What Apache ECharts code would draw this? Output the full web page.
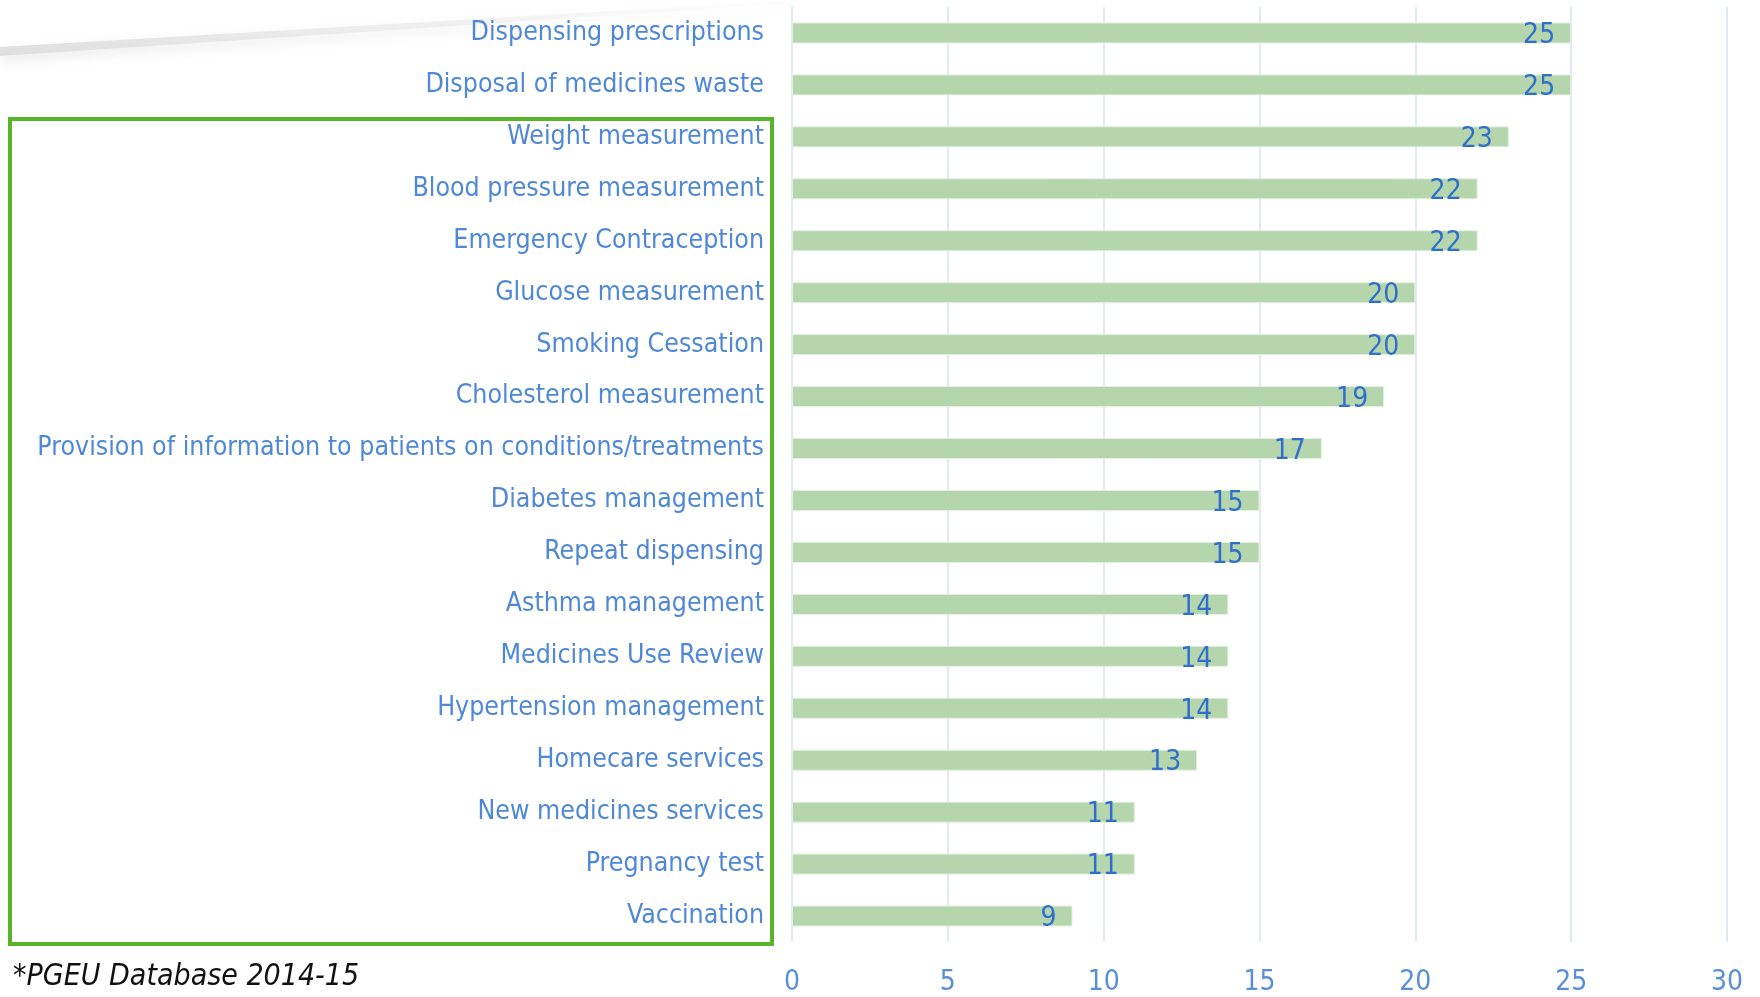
<!DOCTYPE html>
<html>
<head>
<meta charset="utf-8">
<script src="https://cdn.jsdelivr.net/npm/echarts@6/dist/echarts.min.js"></script>
<style>
html,body{margin:0;padding:0;background:#fff;}
#chart{width:1760px;height:997px;}
</style>
</head>
<body>
<div id="chart"></div>
<script>
const categories = [
  "Dispensing prescriptions",
  "Disposal of medicines waste",
  "Weight measurement",
  "Blood pressure measurement",
  "Emergency Contraception",
  "Glucose measurement",
  "Smoking Cessation",
  "Cholesterol measurement",
  "Provision of information to patients on conditions/treatments",
  "Diabetes management",
  "Repeat dispensing",
  "Asthma management",
  "Medicines Use Review",
  "Hypertension management",
  "Homecare services",
  "New medicines services",
  "Pregnancy test",
  "Vaccination"
];
const values = [25, 25, 23, 22, 22, 20, 20, 19, 17, 15, 15, 14, 14, 14, 13, 11, 11, 9];
const axisTicks = [0, 5, 10, 15, 20, 25, 30];
const footnote = "*PGEU Database 2014-15";

const FONT = '"Liberation Sans Narrow", "DejaVu Sans Condensed", sans-serif';
const chart = echarts.init(document.getElementById('chart'), null, {renderer: 'canvas'});
chart.setOption({
  backgroundColor: '#ffffff',
  animation: false,
  grid: {left: 792, right: 33, top: 7, bottom: 43, containLabel: false},
  xAxis: {
    type: 'value',
    min: axisTicks[0],
    max: axisTicks[axisTicks.length - 1],
    interval: 5,
    axisLine: {show: false},
    axisTick: {show: false},
    splitLine: {show: true, lineStyle: {color: '#d5e3f1', width: 1.5}},
    axisLabel: {color: '#5a8ed6', fontFamily: FONT, fontSize: 28, margin: 27}
  },
  yAxis: {
    type: 'category',
    data: categories,
    inverse: true,
    axisLine: {show: false},
    axisTick: {show: false},
    splitLine: {show: false},
    axisLabel: {color: '#4e88d6', fontFamily: FONT, fontSize: 26.5, margin: 28}
  },
  series: [{
    type: 'bar',
    data: values,
    barWidth: 21,
    itemStyle: {color: '#b5d5ad', borderColor: '#e4f0e1', borderWidth: 1},
    label: {
      show: true,
      position: 'insideRight',
      distance: 16,
      offset: [0, 3],
      color: '#2f6fcb',
      fontFamily: FONT,
      fontSize: 28
    }
  }],
  graphic: [
    {
      type: 'polygon',
      shape: {points: [[0, 47], [800, 0], [800, 3], [0, 56]]},
      style: {
        fill: new echarts.graphic.LinearGradient(0, 0, 1, 0, [
          {offset: 0, color: 'rgba(215,215,215,0.75)'},
          {offset: 0.55, color: 'rgba(230,230,230,0.55)'},
          {offset: 1, color: 'rgba(245,245,245,0.1)'}
        ]),
        shadowBlur: 12,
        shadowColor: 'rgba(0,0,0,0.12)',
        shadowOffsetY: 5
      },
      z: -1
    },
    {
      type: 'rect',
      shape: {x: 10, y: 119, width: 762, height: 825},
      style: {fill: 'none', stroke: '#58b52a', lineWidth: 4},
      z: 10
    },
    {
      type: 'text',
      left: 13,
      top: 962,
      style: {text: footnote, fill: '#111', font: 'italic 30px ' + FONT}
    }
  ]
});
</script>
</body>
</html>
